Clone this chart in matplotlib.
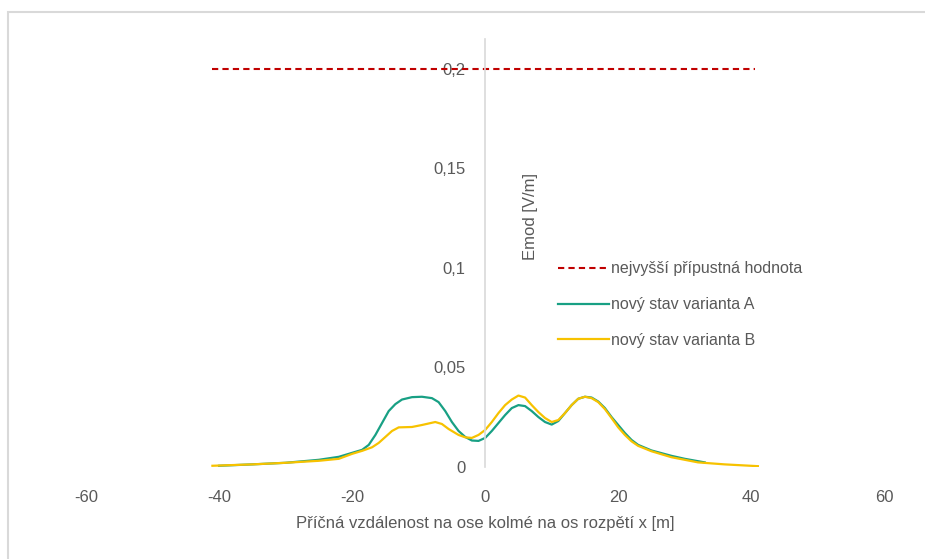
import matplotlib
matplotlib.use("Agg")
import matplotlib.pyplot as plt
from matplotlib.patches import Rectangle
from matplotlib.ticker import FuncFormatter

# limit line
limit_x = [-41, 40.5]
limit_y = [0.2, 0.2]

# novy stav varianta A
a_x = [-40, -35, -30, -25, -22, -20, -18.5, -17.5, -16.5, -15.5, -14.5, -13.5, -12.5, -11, -9.5,
       -8, -7, -6, -5, -4, -3, -2, -1, 0, 1, 2, 3, 4, 5, 6, 7, 8, 9, 10, 11, 12, 13, 14,
       15, 16, 17, 18, 19, 20, 21, 22, 23, 25, 28, 30, 33]
a_y = [0.0005, 0.0012, 0.002, 0.0035, 0.005, 0.007, 0.0085, 0.011, 0.016, 0.022, 0.028, 0.0315,
       0.0338, 0.035, 0.0352, 0.0345, 0.0325, 0.028, 0.0225, 0.018, 0.015, 0.0132, 0.013,
       0.0145, 0.018, 0.022, 0.026, 0.0295, 0.031, 0.0305, 0.028, 0.025, 0.0225, 0.0212, 0.023,
       0.027, 0.031, 0.0342, 0.0352, 0.0348, 0.0328, 0.0295, 0.025, 0.021, 0.017, 0.0135,
       0.011, 0.0082, 0.0055, 0.004, 0.0022]

# novy stav varianta B
b_x = [-41, -35, -30, -25, -22, -20, -18.5, -17, -16, -15, -14, -13, -11, -9.5, -7.5, -6.5,
       -5.5, -4, -3, -2, -1, 0, 1, 2, 3, 4, 5, 6, 7, 8, 9, 10, 11, 12, 13, 14, 15, 16, 17,
       18, 19, 20, 21, 22, 23, 25, 28, 32, 36, 41]
b_y = [0.0005, 0.0012, 0.002, 0.003, 0.004, 0.0065, 0.008, 0.0098, 0.012, 0.015, 0.018, 0.0198,
       0.020, 0.021, 0.0225, 0.0215, 0.019, 0.016, 0.0148, 0.0145, 0.016, 0.0185, 0.0225, 0.027,
       0.031, 0.0338, 0.0358, 0.0348, 0.031, 0.0275, 0.0245, 0.0225, 0.0235, 0.027, 0.031,
       0.0342, 0.0352, 0.0345, 0.0325, 0.029, 0.0245, 0.0198, 0.016, 0.0128, 0.0105, 0.0078,
       0.0048, 0.0022, 0.0012, 0.0003]

x_ticks = [-60, -40, -20, 0, 20, 40, 60]
y_ticks = [0, 0.05, 0.1, 0.15, 0.2]

gray = "#595959"
plt.rcParams["font.family"] = ["Liberation Sans", "DejaVu Sans"]

fig = plt.figure(figsize=(9.25, 5.59), dpi=100)
ax = fig.add_axes([0.093, 0.165, 0.863, 0.765])

ax.plot(limit_x, limit_y, color="#c00000", lw=1.5, ls=(0, (3, 2)),
        label="nejvyšší přípustná hodnota")
ax.plot(a_x, a_y, color="#18a084", lw=1.6, label="nový stav varianta A")
ax.plot(b_x, b_y, color="#f7c200", lw=1.6, label="nový stav varianta B")

ax.set_xlim(-60, 60)
ax.set_ylim(0, 0.215)
ax.set_xticks(x_ticks)
ax.set_yticks(y_ticks)

def comma(v, pos):
    s = f"{v:g}"
    return s.replace(".", ",")

ax.yaxis.set_major_formatter(FuncFormatter(comma))
ax.xaxis.set_major_formatter(FuncFormatter(comma))

for side in ["top", "right", "bottom"]:
    ax.spines[side].set_visible(False)
ax.spines["left"].set_position(("data", 0))
ax.spines["left"].set_color("#d9d9d9")
ax.spines["left"].set_linewidth(1.2)

ax.tick_params(axis="both", length=0, labelsize=12, labelcolor=gray)
ax.tick_params(axis="x", pad=17)
ax.tick_params(axis="y", pad=14)

ax.set_xlabel("Příčná vzdálenost na ose kolmé na os rozpětí x [m]", fontsize=12,
              color=gray, labelpad=8)
ax.set_ylabel("Emod [V/m]", fontsize=12, color=gray)
ax.yaxis.set_label_coords(0.566, 0.585)

leg = ax.legend(loc="upper left", bbox_to_anchor=(0.588, 0.558), bbox_transform=fig.transFigure,
                frameon=False, fontsize=11.5, handlelength=3.2, handletextpad=0.1,
                labelspacing=1.3)
for t in leg.get_texts():
    t.set_color(gray)

# chart border
fig.patches.append(Rectangle((8 / 925, -0.02), 1.02, 1 - 12 / 559 + 0.02, transform=fig.transFigure,
                             fill=False, edgecolor="#d9d9d9", lw=1.5))

fig.savefig("out.png", dpi=100)
